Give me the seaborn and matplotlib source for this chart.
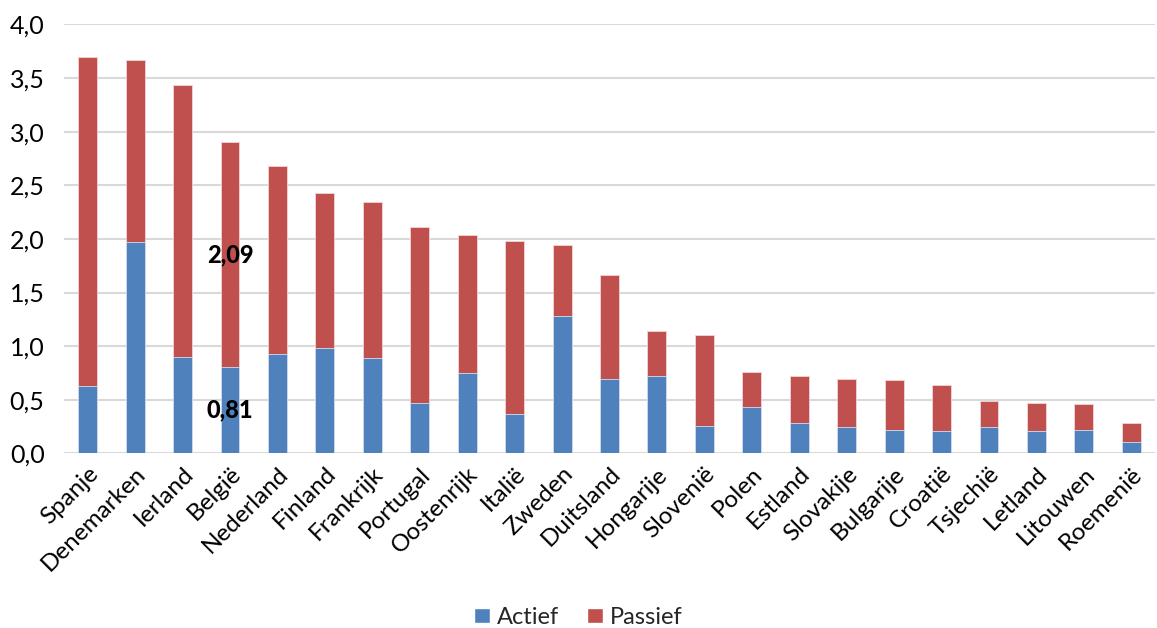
import matplotlib
matplotlib.use("Agg")
import matplotlib.pyplot as plt
import seaborn as sns
import pandas as pd
from matplotlib.patches import Patch

landen = ["Spanje", "Denemarken", "Ierland", "België", "Nederland", "Finland",
          "Frankrijk", "Portugal", "Oostenrijk", "Italië", "Zweden", "Duitsland",
          "Hongarije", "Slovenië", "Polen", "Estland", "Slovakije", "Bulgarije",
          "Croatië", "Tsjechië", "Letland", "Litouwen", "Roemenië"]
actief = [0.63, 1.97, 0.90, 0.81, 0.93, 0.98, 0.89, 0.47, 0.75, 0.37, 1.28, 0.69,
          0.72, 0.26, 0.43, 0.28, 0.25, 0.22, 0.21, 0.25, 0.21, 0.22, 0.11]
passief = [3.07, 1.70, 2.54, 2.09, 1.75, 1.45, 1.45, 1.64, 1.29, 1.61, 0.66, 0.97,
           0.42, 0.84, 0.33, 0.44, 0.44, 0.46, 0.43, 0.24, 0.26, 0.24, 0.17]
yticks = [0.0, 0.5, 1.0, 1.5, 2.0, 2.5, 3.0, 3.5, 4.0]

df = pd.DataFrame({"land": landen, "Actief": actief, "Passief": passief})
df["Totaal"] = df["Actief"] + df["Passief"]

sns.set_style("white")
plt.rcParams["font.family"] = ["Lato", "DejaVu Sans"]

blauw = "#4f81bd"
rood = "#c0504d"
fs = 18

fig = plt.figure(figsize=(11.57, 6.28), dpi=100)
ax = fig.add_axes([0.0553, 0.278, 0.943, 0.683])

sns.barplot(data=df, x="land", y="Totaal", color=rood, saturation=1, width=0.4,
            ax=ax, edgecolor="#f2d6d5", linewidth=0.6, zorder=3)
sns.barplot(data=df, x="land", y="Actief", color=blauw, saturation=1, width=0.4,
            ax=ax, edgecolor="#d3e0f0", linewidth=0.6, zorder=4)

ax.set_ylim(0, 4.0)
ax.set_xlim(-0.5, len(landen) - 0.5)
ax.set_yticks(yticks)
ax.set_yticklabels([f"{v:.1f}".replace(".", ",") for v in yticks], fontsize=fs)
ax.yaxis.grid(True, color="#d9d9d9", linewidth=1.5, zorder=0)
ax.set_axisbelow(True)
for s in ["top", "right", "left", "bottom"]:
    ax.spines[s].set_visible(False)
ax.tick_params(axis="both", length=0, colors="black")
ax.tick_params(axis="y", pad=14)
ax.set_xlabel("")
ax.set_ylabel("")
ax.set_xticks(range(len(landen)))
ax.set_xticklabels(landen, rotation=45, ha="right", rotation_mode="anchor",
                   fontsize=17.5)
ax.tick_params(axis="x", pad=7)

# Waardelabels voor België
i = landen.index("België")
ax.text(i, actief[i] / 2, f"{actief[i]:.2f}".replace(".", ","), ha="center",
        va="center", fontsize=17, fontweight="black", color="black", zorder=6)
ax.text(i, actief[i] + passief[i] / 2, f"{passief[i]:.2f}".replace(".", ","),
        ha="center", va="center", fontsize=17, fontweight="black", color="black",
        zorder=6)

handles = [Patch(facecolor=blauw, label="Actief"), Patch(facecolor=rood, label="Passief")]
fig.legend(handles=handles, loc="center", bbox_to_anchor=(0.5, 0.017), ncol=2,
           frameon=False, fontsize=17, handlelength=0.65, handleheight=0.65,
           handletextpad=0.3, columnspacing=1.2)

fig.savefig("out.png", dpi=100)
